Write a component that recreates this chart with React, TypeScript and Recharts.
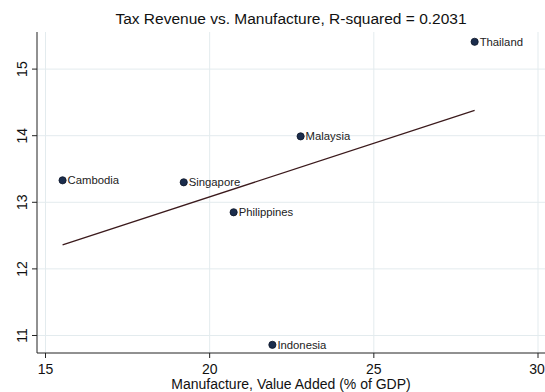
import React from "react";
import { ScatterChart, Scatter, XAxis, YAxis, CartesianGrid } from "recharts";

// Country observations: manufacturing value added (% of GDP) vs. tax revenue
const countries = ["Thailand", "Malaysia", "Cambodia", "Singapore", "Philippines", "Indonesia"];
const manufacture = [28.07, 22.77, 15.52, 19.21, 20.73, 21.91];
const taxRevenue = [15.41, 13.99, 13.33, 13.3, 12.85, 10.86];

// Fitted line end points
const fitX = [15.52, 28.07];
const fitY = [12.36, 14.38];

const xTicks = [15, 20, 25, 30];
const yTicks = [11, 12, 13, 14, 15];

const points = countries.map((name, i) => ({ name, x: manufacture[i], y: taxRevenue[i] }));
const fitLine = fitX.map((x, i) => ({ x, y: fitY[i] }));

const FONT = "Arial, 'Liberation Sans', sans-serif";

const CountryMarker = (props: any) => {
  const { cx, cy, payload } = props;
  return (
    <g>
      <circle cx={cx} cy={cy} r={3.6} fill="#1b2d4d" stroke="#0b1426" strokeWidth={0.8} />
      <text x={cx + 5} y={cy + 4} fontSize={11.3} fontFamily={FONT} fill="#222">
        {payload.name}
      </text>
    </g>
  );
};

const HiddenMarker = () => <g />;

const XTick = (props: any) => {
  const { x, payload } = props;
  return (
    <text x={x} y={374} textAnchor="middle" fontSize={14} fontFamily={FONT} fill="#111">
      {payload.value}
    </text>
  );
};

const YTick = (props: any) => {
  const { y, payload } = props;
  return (
    <text
      transform={`translate(27, ${y}) rotate(-90)`}
      textAnchor="middle"
      fontSize={14}
      fontFamily={FONT}
      fill="#111"
    >
      {payload.value}
    </text>
  );
};

export default function App() {
  return (
    <div style={{ position: "absolute", left: 0, top: 0, width: 545, height: 392, background: "#fff" }}>
      <ScatterChart
        width={545}
        height={392}
        margin={{ top: 32, right: 0, bottom: 0, left: 0 }}
        style={{ background: "#fff" }}
      >
        <CartesianGrid
          stroke="#e3ebee"
          strokeWidth={1}
          horizontalValues={yTicks}
          verticalValues={xTicks}
        />
        <XAxis
          type="number"
          dataKey="x"
          domain={[14.741, 30.213]}
          ticks={xTicks}
          allowDataOverflow
          height={39}
          tickSize={5}
          tick={<XTick />}
          axisLine={{ stroke: "#222", strokeWidth: 1 }}
          tickLine={{ stroke: "#222" }}
        />
        <YAxis
          type="number"
          dataKey="y"
          domain={[10.737, 15.557]}
          ticks={yTicks}
          allowDataOverflow
          width={37}
          tickSize={5}
          tick={<YTick />}
          axisLine={{ stroke: "#222", strokeWidth: 1 }}
          tickLine={{ stroke: "#222" }}
        />
        <Scatter
          data={fitLine}
          line={{ stroke: "#3b1a1c", strokeWidth: 1.3 }}
          shape={<HiddenMarker />}
          isAnimationActive={false}
        />
        <Scatter data={points} shape={<CountryMarker />} isAnimationActive={false} />
        <text x={291} y={24} textAnchor="middle" fontSize={15.5} fontFamily={FONT} fill="#111">
          Tax Revenue vs. Manufacture, R-squared = 0.2031
        </text>
        <text x={291} y={389} textAnchor="middle" fontSize={14} fontFamily={FONT} fill="#111">
          Manufacture, Value Added (% of GDP)
        </text>
      </ScatterChart>
    </div>
  );
}
